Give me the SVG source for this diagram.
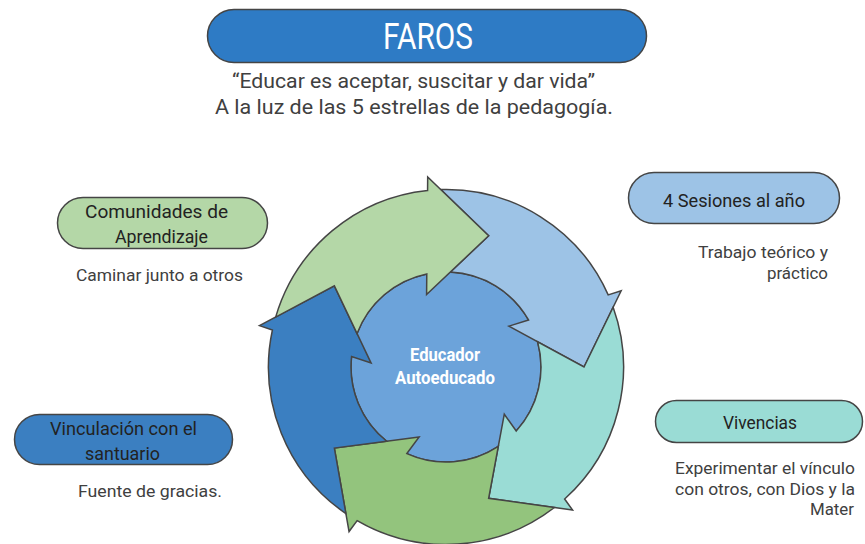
<svg xmlns="http://www.w3.org/2000/svg" width="865" height="544" viewBox="0 0 865 544">
<style>
.pill{stroke:#454545;stroke-width:1.5}
.arr{stroke:#454545;stroke-width:1.5;stroke-linejoin:miter}
.pt{font-family:Roboto,"Liberation Sans",sans-serif;font-size:19px;fill:#222}
.bt{font-family:Roboto,"Liberation Sans",sans-serif;font-size:17px;fill:#404040}
.sub{font-family:Roboto,"Liberation Sans",sans-serif;font-size:20px;fill:#404040}
.lg{fill:#B4D7A7}.lb{fill:#9DC3E6}.tl{fill:#9ADCD5}.gr{fill:#93C47D}.db{fill:#3B7FC1}
</style>
<rect width="865" height="544" fill="#ffffff"/>
<g id="title">
<rect class="pill" x="207.5" y="9.5" width="439" height="53" rx="26.5" fill="#2E7BC5"/>
<text x="383" y="49" font-family="Roboto,'Liberation Sans',sans-serif" font-size="36" fill="#ffffff" textLength="90" lengthAdjust="spacingAndGlyphs">FAROS</text>
</g>
<g id="subtitle">
<text class="sub" x="232" y="88" textLength="363" lengthAdjust="spacingAndGlyphs">“Educar es aceptar, suscitar y dar vida”</text>
<text class="sub" x="215" y="114" textLength="398" lengthAdjust="spacingAndGlyphs">A la luz de las 5 estrellas de la pedagogía.</text>
</g>
<g id="center">
<circle cx="446" cy="367" r="95" fill="#6CA3DA" stroke="#454545" stroke-width="1.5"/>
</g>
<g id="cycle-arrows">
<path id="arrow-lightblue" class="arr lb" d="M440.83,189.57 A177.5,177.5 0 0 1 608.20,294.92 L621.16,290.84 L584,367 L508.90,326.15 L528.54,319.97 A95,95 0 0 0 450.29,272.10 L488.64,235.75 Z"/>
<path id="arrow-teal" class="arr tl" d="M613.14,307.25 A177.5,177.5 0 0 1 564.64,499.02 L572.56,510.05 L488.64,498.25 L504.29,414.20 L516.23,430.97 A95,95 0 0 0 537.58,341.76 L584,367 Z"/>
<path id="arrow-green" class="arr gr" d="M554.46,507.51 A177.5,177.5 0 0 1 357.14,520.66 L349.06,531.57 L334.36,448.11 L419.12,437.02 L406.86,453.56 A95,95 0 0 0 498.30,446.31 L488.64,498.25 Z"/>
<path id="arrow-darkblue" class="arr db" d="M345.89,513.57 A177.5,177.5 0 0 1 272.40,329.98 L259.53,325.66 L334.36,285.89 L371.10,363.07 L351.58,356.53 A95,95 0 0 0 386.74,441.25 L334.36,448.11 Z"/>
<path id="arrow-lightgreen" class="arr lg" d="M275.66,317.11 A177.5,177.5 0 0 1 427.57,190.46 L427.69,176.88 L488.64,235.75 L426.59,294.56 L426.78,273.96 A95,95 0 0 0 357.07,333.58 L334.36,285.89 Z"/>
</g>
<g id="center-label">
<text x="410" y="361" font-family="Roboto,'Liberation Sans',sans-serif" font-size="19" font-weight="bold" fill="#ffffff" textLength="70" lengthAdjust="spacingAndGlyphs">Educador</text>
<text x="395" y="384" font-family="Roboto,'Liberation Sans',sans-serif" font-size="19" font-weight="bold" fill="#ffffff" textLength="100" lengthAdjust="spacingAndGlyphs">Autoeducado</text>
</g>
<g id="node-comunidades">
<rect class="pill lg" x="57.5" y="197.5" width="210" height="51" rx="25.5"/>
<text class="pt" x="85" y="218" textLength="143" lengthAdjust="spacingAndGlyphs">Comunidades de</text>
<text class="pt" x="115" y="243" textLength="93" lengthAdjust="spacingAndGlyphs">Aprendizaje</text>
<text class="bt" x="76" y="281" textLength="167" lengthAdjust="spacingAndGlyphs">Caminar junto a otros</text>
</g>
<g id="node-vinculacion">
<rect class="pill db" x="14.5" y="414.5" width="218" height="50" rx="25"/>
<text class="pt" x="50" y="435" textLength="147" lengthAdjust="spacingAndGlyphs">Vinculación con el</text>
<text class="pt" x="85" y="460" textLength="75" lengthAdjust="spacingAndGlyphs">santuario</text>
<text class="bt" x="78" y="497" textLength="144" lengthAdjust="spacingAndGlyphs">Fuente de gracias.</text>
</g>
<g id="node-sesiones">
<rect class="pill lb" x="628.5" y="172.5" width="211" height="51" rx="25.5"/>
<text class="pt" x="663" y="207" textLength="142" lengthAdjust="spacingAndGlyphs">4 Sesiones al año</text>
<text class="bt" x="698" y="258" textLength="130" lengthAdjust="spacingAndGlyphs">Trabajo teórico y</text>
<text class="bt" x="767" y="279" textLength="61" lengthAdjust="spacingAndGlyphs">práctico</text>
</g>
<g id="node-vivencias">
<rect class="pill tl" x="655.5" y="400.5" width="207" height="42" rx="21"/>
<text class="pt" x="723" y="429" textLength="74" lengthAdjust="spacingAndGlyphs">Vivencias</text>
<text class="bt" x="675" y="474" textLength="180" lengthAdjust="spacingAndGlyphs">Experimentar el vínculo</text>
<text class="bt" x="675" y="495" textLength="180" lengthAdjust="spacingAndGlyphs">con otros, con Dios y la</text>
<text class="bt" x="810" y="515" textLength="44" lengthAdjust="spacingAndGlyphs">Mater</text>
</g>
</svg>
